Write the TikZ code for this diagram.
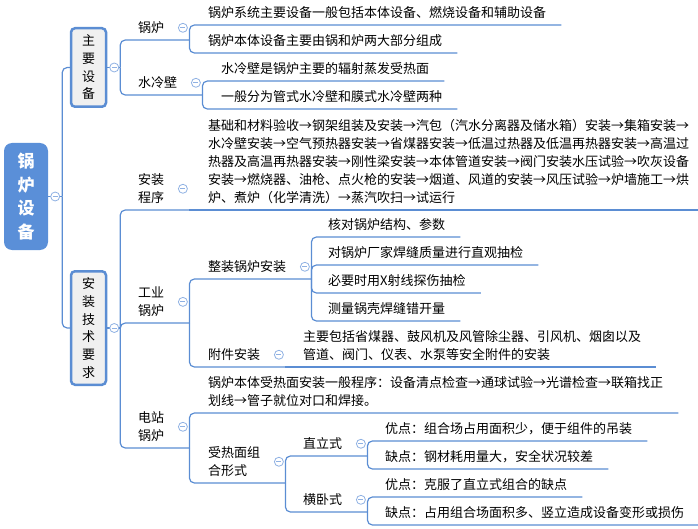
\documentclass[tikz,border=0pt]{standalone}
\usepackage{fontspec}
\setmainfont{Noto Sans CJK SC}
\definecolor{lineblue}{HTML}{5B8DD3}
\definecolor{rootblue}{HTML}{5A8FD8}
\definecolor{foldblue}{HTML}{8FB1E3}
\definecolor{boxgray}{HTML}{F0F0F0}
\tikzstyle{edge}=[
	draw=lineblue,
	line width=1.2pt,
	rounded corners=5pt
]
\tikzstyle{root}=[
	fill=rootblue,
	text=white,
	rounded corners=8pt,
	minimum width=44pt,
	minimum height=107pt,
	inner sep=0pt,
	align=center,
	font=\bfseries\fontsize{17}{23.5}\selectfont
]
\tikzstyle{mainbox}=[
	draw=lineblue,
	line width=2.5pt,
	fill=boxgray,
	rounded corners=4pt,
	minimum width=35pt,
	inner sep=0pt,
	align=center,
	font=\fontsize{13}{17.7}\selectfont
]
\tikzstyle{topic}=[
	anchor=south west,
	inner xsep=15pt,
	inner ysep=6pt,
	align=left,
	font=\fontsize{13}{18}\selectfont
]
\tikzstyle{fold}=[
	circle,
	draw=foldblue,
	fill=white,
	line width=0.8pt,
	minimum size=9pt,
	inner sep=0pt,
	path picture={\draw[foldblue, line width=0.8pt] ([xshift=-2.5pt]path picture bounding box.center) -- ([xshift=2.5pt]path picture bounding box.center);}
]
\begin{document}
\begin{tikzpicture}[x=1pt, y=-1pt]
\useasboundingbox (0,0) rectangle (698,529);

\node[root] (root) at (26,196.5) {锅\\炉\\设\\备};
\node[mainbox, minimum height=78.5pt] (zysb) at (88.5,67.5) {主\\要\\设\\备};
\node[mainbox, minimum height=113.5pt] (azjs) at (88.5,328) {安\\装\\技\\术\\要\\求};
\coordinate (root-o) at ([xshift=14pt]root.east);
\coordinate (zysb-o) at ([xshift=13pt]zysb.east);
\coordinate (azjs-o) at ([xshift=13pt]azjs.east);

\draw[edge] (root.east) -- (root-o);
\draw[edge] (root-o) |- (zysb.west);
\draw[edge] (root-o) |- (azjs.west);
\draw[edge] (zysb.east) -- (zysb-o);
\draw[edge] (azjs.east) -- (azjs-o);

% topics
\node[topic] (gl) at (123,40) {锅炉};
\node[topic] (slb) at (123,95) {水冷壁};
\node[topic] (azcx) at (123,210) {安装\\程序};
\node[topic] (gygl) at (123,323) {工业\\锅炉};
\node[topic] (dzgl) at (123,448) {电站\\锅炉};
\node[topic] (zzgl) at (193,279) {整装锅炉安装};
\node[topic] (fjaz) at (193,367) {附件安装};
\node[topic] (rmzh) at (193,483) {受热面组\\合形式};
\node[topic] (zls) at (288,456) {直立式};
\node[topic] (hws) at (288,512) {横卧式};
\foreach \n in {gl,slb,azcx,gygl,dzgl,zzgl,fjaz,rmzh,zls,hws}{
    \coordinate (\n-o) at ([xshift=10pt]\n.south east);
}

\foreach \n in {gl,slb}
    \draw[edge] (zysb-o) |- (\n-o);
\foreach \n in {azcx,gygl,dzgl}
    \draw[edge] (azjs-o) |- (\n-o);
\foreach \n in {zzgl,fjaz}
    \draw[edge] (gygl-o) |- (\n-o);
\draw[edge] (dzgl-o) |- (rmzh-o);
\foreach \n in {zls,hws}
    \draw[edge] (rmzh-o) |- (\n-o);

% leaves
\foreach \n/\y/\t in {gl1/25/锅炉系统主要设备一般包括本体设备、燃烧设备和辅助设备,
                      gl2/53/锅炉本体设备主要由锅和炉两大部分组成}{
    \node[topic] (\n) at (193,\y) {\t};
    \draw[edge] (gl-o) |- (\n.south east);
}
\foreach \n/\y/\t in {slb1/81/水冷壁是锅炉主要的辐射蒸发受热面,
                      slb2/109/一般分为管式水冷壁和膜式水冷壁两种}{
    \node[topic] (\n) at (206,\y) {\t};
    \draw[edge] (slb-o) |- (\n.south east);
}
\node[topic] (azcx1) at (193,210) {基础和材料验收→钢架组装及安装→汽包（汽水分离器及储水箱）安装→集箱安装→\\水冷壁安装→空气预热器安装→省煤器安装→低温过热器及低温再热器安装→高温过\\热器及高温再热器安装→刚性梁安装→本体管道安装→阀门安装水压试验→吹灰设备\\安装→燃烧器、油枪、点火枪的安装→烟道、风道的安装→风压试验→炉墙施工→烘\\炉、煮炉（化学清洗）→蒸汽吹扫→试运行};
\draw[edge] (azcx-o) -- (azcx1.south east);
\foreach \n/\y/\t in {zzgl1/237/核对锅炉结构、参数,
                      zzgl2/265/对锅炉厂家焊缝质量进行直观抽检,
                      zzgl3/293/必要时用X射线探伤抽检,
                      zzgl4/321/测量锅壳焊缝错开量}{
    \node[topic] (\n) at (313,\y) {\t};
    \draw[edge] (zzgl-o) |- (\n.south east);
}
\node[topic] (fjaz1) at (288,367) {主要包括省煤器、鼓风机及风管除尘器、引风机、烟囱以及\\管道、阀门、仪表、水泵等安全附件的安装};
\draw[edge] (fjaz-o) -- (fjaz1.south east);
\node[topic] (dzgl1) at (193,413) {锅炉本体受热面安装一般程序：设备清点检查→通球试验→光谱检查→联箱找正\\划线→管子就位对口和焊接。};
\draw[edge] (dzgl-o) |- (dzgl1.south east);
\foreach \n/\y/\t in {zls1/441/优点：组合场占用面积少，便于组件的吊装,
                      zls2/469/缺点：钢材耗用量大，安全状况较差}{
    \node[topic] (\n) at (370,\y) {\t};
    \draw[edge] (zls-o) |- (\n.south east);
}
\foreach \n/\y/\t in {hws1/497/优点：克服了直立式组合的缺点,
                      hws2/525/缺点：占用组合场面积多、竖立造成设备变形或损伤}{
    \node[topic] (\n) at (370,\y) {\t};
    \draw[edge] (hws-o) |- (\n.south east);
}

% fold buttons
\node[fold] (root-f) at ([xshift=7pt]root.east) {};
\node[fold] (zysb-f) at ([xshift=7pt]zysb.east) {};
\node[fold] (azjs-f) at ([xshift=7pt]azjs.east) {};
\foreach \n in {gl,slb,azcx,gygl,dzgl,zzgl,fjaz,rmzh,zls,hws}
    \node[fold] (\n-f) at ([xshift=3.5pt]\n.east) {};

\end{tikzpicture}
\end{document}
